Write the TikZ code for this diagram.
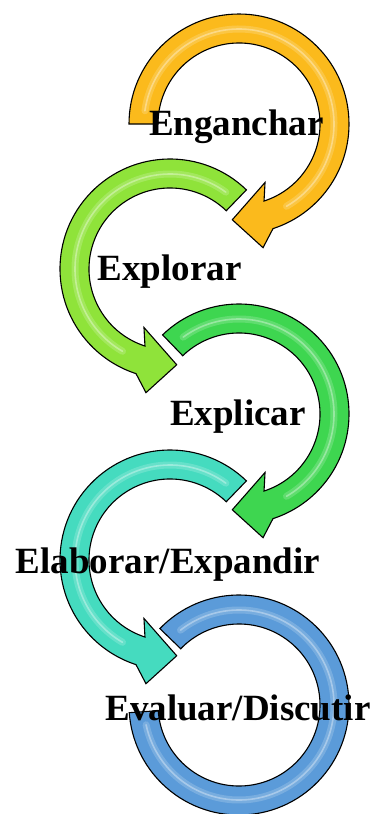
\documentclass[tikz,border=0pt]{standalone}
\usepackage{fontspec}
\setmainfont{Liberation Serif}
\definecolor{cy}{HTML}{FBBA1C}
\definecolor{cl}{HTML}{8FE33A}
\definecolor{cg}{HTML}{3ED650}
\definecolor{ct}{HTML}{45DBBF}
\definecolor{cb}{HTML}{5B9BD9}
\begin{document}
\begin{tikzpicture}[x=1pt,y=1pt,
  band/.style={draw=black, line width=1.1pt, line join=miter},
  gloss/.style={draw=white, line width=7pt, opacity=0.18, line cap=round},
  glossline/.style={draw=white, line width=1.6pt, opacity=0.35, line cap=round},
  lbl/.style={font=\fontsize{37}{40}\selectfont\bfseries, text=black, inner sep=0pt, anchor=base}]
\useasboundingbox (0,0) rectangle (377,-814);
\coordinate (c1) at (239,-124);
\coordinate (c2) at (170,-269);
\coordinate (c3) at (239,-414);
\coordinate (c4) at (170,-560);
\coordinate (c5) at (239,-705);

% yellow (clockwise)
\path[band, fill=cy] ([shift={(c1)}]180:110) arc[start angle=180, end angle=-72, radius=110]
  -- ([shift={(c1)}]-79:126) -- ([shift={(c1)}]-94:96) -- ([shift={(c1)}]-66:64)
  -- ([shift={(c1)}]-72:81) arc[start angle=-72, end angle=180, radius=81] -- cycle;
\draw[gloss] ([shift={(c1)}]172:95) arc[start angle=172, end angle=-60, radius=95];
\draw[glossline] ([shift={(c1)}]172:95) arc[start angle=172, end angle=-60, radius=95];

% lime (counter-clockwise)
\path[band, fill=cl] ([shift={(c2)}]46:110) arc[start angle=46, end angle=252, radius=110]
  -- ([shift={(c2)}]259:126) -- ([shift={(c2)}]274:96) -- ([shift={(c2)}]246:64)
  -- ([shift={(c2)}]252:81) arc[start angle=252, end angle=46, radius=81] -- cycle;
\draw[gloss] ([shift={(c2)}]54:95) arc[start angle=54, end angle=240, radius=95];
\draw[glossline] ([shift={(c2)}]54:95) arc[start angle=54, end angle=240, radius=95];

% green (clockwise)
\path[band, fill=cg] ([shift={(c3)}]134:110) arc[start angle=134, end angle=-72, radius=110]
  -- ([shift={(c3)}]-79:126) -- ([shift={(c3)}]-94:96) -- ([shift={(c3)}]-66:64)
  -- ([shift={(c3)}]-72:81) arc[start angle=-72, end angle=134, radius=81] -- cycle;
\draw[gloss] ([shift={(c3)}]126:95) arc[start angle=126, end angle=-60, radius=95];
\draw[glossline] ([shift={(c3)}]126:95) arc[start angle=126, end angle=-60, radius=95];

% teal (counter-clockwise)
\path[band, fill=ct] ([shift={(c4)}]46:110) arc[start angle=46, end angle=252, radius=110]
  -- ([shift={(c4)}]259:126) -- ([shift={(c4)}]274:96) -- ([shift={(c4)}]246:64)
  -- ([shift={(c4)}]252:81) arc[start angle=252, end angle=46, radius=81] -- cycle;
\draw[gloss] ([shift={(c4)}]54:95) arc[start angle=54, end angle=240, radius=95];
\draw[glossline] ([shift={(c4)}]54:95) arc[start angle=54, end angle=240, radius=95];

% blue (clockwise, no head)
\path[band, fill=cb] ([shift={(c5)}]136:110) arc[start angle=136, end angle=-176, radius=110]
  -- ([shift={(c5)}]-176:81) arc[start angle=-176, end angle=136, radius=81] -- cycle;
\draw[gloss] ([shift={(c5)}]128:95) arc[start angle=128, end angle=-168, radius=95];
\draw[glossline] ([shift={(c5)}]128:95) arc[start angle=128, end angle=-168, radius=95];

\node[lbl] (t1) at (236.5,-135) {Enganchar};
\node[lbl] (t2) at (169.5,-280) {Explorar};
\node[lbl] (t3) at (238,-425) {Explicar};
\node[lbl] (t4) at (168,-573) {Elaborar/Expandir};
\node[lbl] (t5) at (238,-720) {Evaluar/Discutir};
\end{tikzpicture}
\end{document}
